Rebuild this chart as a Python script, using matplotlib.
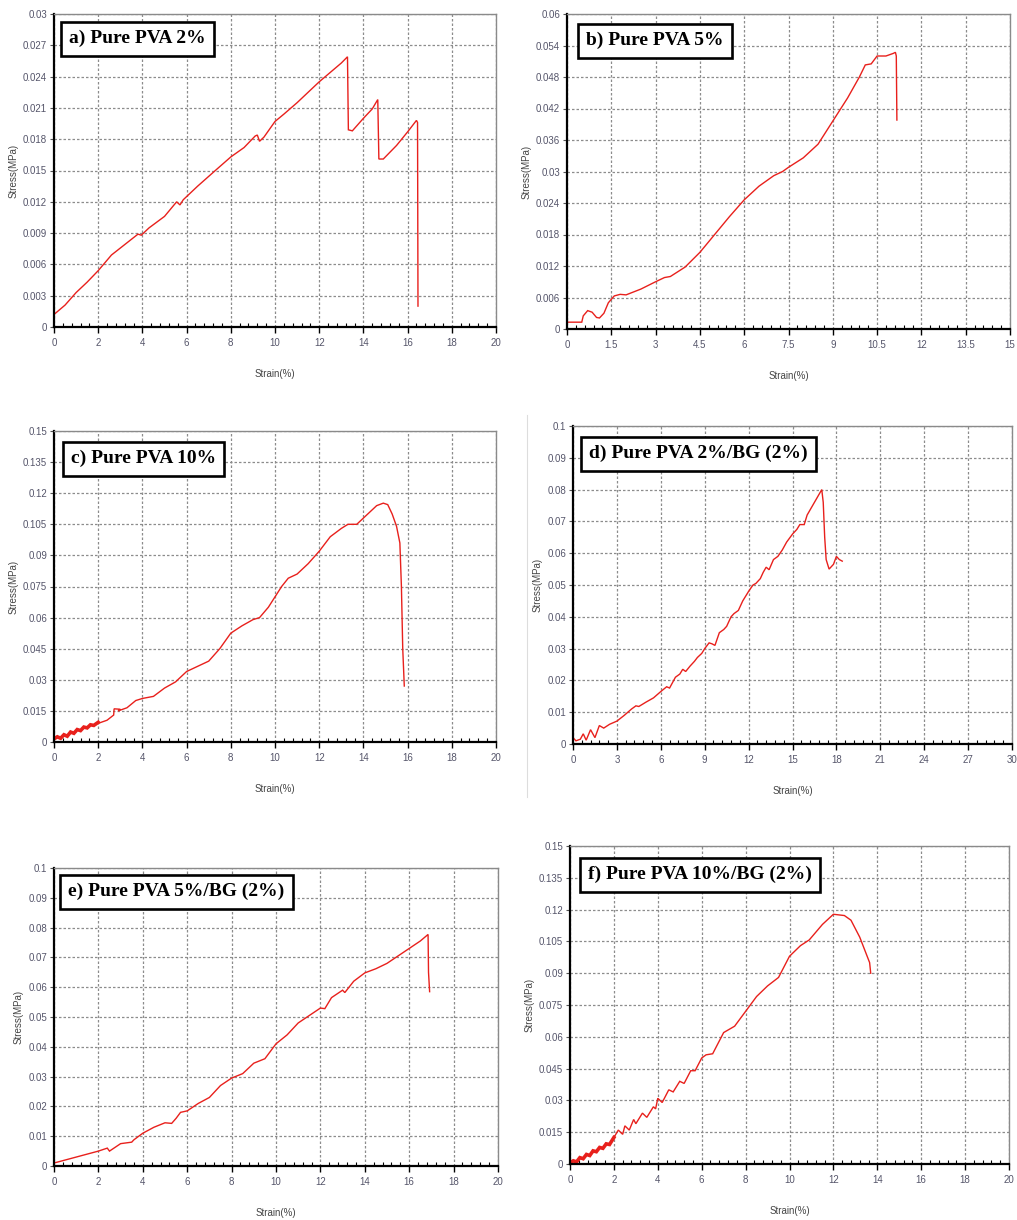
#!/usr/bin/env python3

import matplotlib
matplotlib.use("Agg")
import matplotlib.pyplot as plt
from matplotlib.ticker import AutoMinorLocator, FixedLocator
from matplotlib.lines import Line2D

# ---- data ----
titles = ["a) Pure PVA 2%", "b) Pure PVA 5%", "c) Pure PVA 10%",
          "d) Pure PVA 2%/BG (2%)", "e) Pure PVA 5%/BG (2%)", "f) Pure PVA 10%/BG (2%)"]

# a) Pure PVA 2%
strain_a = [0, 0.5, 1, 1.5, 2, 2.6, 3.2, 3.8, 3.95, 4.1, 4.3, 5, 5.55, 5.7, 5.85, 6.5, 7.3, 8,
            8.6, 9.1, 9.2, 9.3, 9.5, 10, 10.4, 11, 11.6, 12, 12.5, 13, 13.28, 13.32, 13.5, 14, 14.4,
            14.65, 14.7, 14.9, 15.5, 16, 16.4, 16.45, 16.47]
stress_a = [0.0012, 0.0021, 0.0033, 0.0043, 0.0054, 0.0069, 0.0079, 0.0089, 0.0088, 0.0091, 0.0095,
            0.0106, 0.0120, 0.0117, 0.0122, 0.0135, 0.0150, 0.0163, 0.0172, 0.0183, 0.0184, 0.0178,
            0.0182, 0.0197, 0.0204, 0.0215, 0.0227, 0.0235, 0.0244, 0.0253, 0.0259, 0.0189, 0.0188,
            0.0200, 0.0209, 0.0218, 0.0161, 0.0161, 0.0174, 0.0187, 0.0198, 0.0196, 0.0020]

# b) Pure PVA 5%
strain_b = [0, 0.5, 0.55, 0.7, 0.85, 1.0, 1.1, 1.25, 1.4, 1.6, 1.8, 2.0, 2.5, 3.0, 3.3, 3.5, 4.0,
            4.5, 5.0, 5.5, 6.0, 6.5, 7.0, 7.3, 7.5, 8.0, 8.5, 9.0, 9.5, 9.9, 10.1, 10.3, 10.5,
            10.8, 11.05, 11.12, 11.15, 11.17]
stress_b = [0.0013, 0.0013, 0.0025, 0.0035, 0.0032, 0.0022, 0.0021, 0.0030, 0.0050, 0.0063,
            0.0066, 0.0065, 0.0076, 0.0090, 0.0098, 0.0100, 0.0118, 0.0146, 0.0180, 0.0214, 0.0246,
            0.0272, 0.0292, 0.0300, 0.0308, 0.0326, 0.0352, 0.0396, 0.0440, 0.0480, 0.0503, 0.0505,
            0.0520, 0.0520, 0.0525, 0.0527, 0.0520, 0.0398]

# c) Pure PVA 10% (dense noisy start drawn separately)
strain_c0 = [0, 0.15, 0.3, 0.45, 0.6, 0.75, 0.9, 1.05, 1.2, 1.35, 1.5, 1.65, 1.8, 2.0]
stress_c0 = [0.0015, 0.0025, 0.0018, 0.0035, 0.0028, 0.0048, 0.0042, 0.0060, 0.0055, 0.0072,
             0.0068, 0.0083, 0.0080, 0.0095]
strain_c = [2.0, 2.4, 2.7, 2.72, 3.0, 2.9, 3.3, 3.7, 4.0, 4.5, 5.0, 5.5, 6.0, 6.5, 7.0, 7.5, 8.0,
            8.5, 9.0, 9.3, 9.7, 10.0, 10.3, 10.6, 11.0, 11.5, 12.0, 12.5, 13.0, 13.3, 13.7, 14.0,
            14.3, 14.6, 14.9, 15.1, 15.3, 15.5, 15.65, 15.72, 15.78, 15.85]
stress_c = [0.0090, 0.0105, 0.0130, 0.0160, 0.0158, 0.0150, 0.0165, 0.0200, 0.0210, 0.0220, 0.0260,
            0.0290, 0.0340, 0.0365, 0.0390, 0.0450, 0.0525, 0.0560, 0.0590, 0.0600, 0.0650, 0.0700,
            0.0750, 0.0790, 0.0810, 0.0860, 0.0920, 0.0990, 0.1030, 0.1050, 0.1050, 0.1080, 0.1110,
            0.1140, 0.1152, 0.1145, 0.1100, 0.1040, 0.0960, 0.0750, 0.0450, 0.0270]

# d) Pure PVA 2%/BG (2%)
strain_d = [0, 0.2, 0.5, 0.7, 0.9, 1.2, 1.5, 1.8, 2.1, 2.5, 3.0, 3.5, 4.0, 4.3, 4.5, 5.0, 5.5,
            6.0, 6.4, 6.6, 7.0, 7.3, 7.5, 7.7, 8.0, 8.3, 8.5, 8.8, 9.0, 9.3, 9.5, 9.7, 10.0, 10.3,
            10.5, 10.8, 11.0, 11.3, 11.6, 12.0, 12.3, 12.5, 12.8, 13.0, 13.2, 13.4, 13.7, 14.0,
            14.3, 14.6, 15.0, 15.3, 15.5, 15.8, 16.0, 16.5, 17.0, 17.1, 17.2, 17.3, 17.5, 17.8,
            18.0, 18.2, 18.4]
stress_d = [0.0020, 0.0010, 0.0015, 0.0032, 0.0012, 0.0045, 0.0020, 0.0058, 0.0050, 0.0062,
            0.0072, 0.0090, 0.0110, 0.0120, 0.0118, 0.0132, 0.0145, 0.0165, 0.0180, 0.0176,
            0.0210, 0.0220, 0.0235, 0.0228, 0.0245, 0.0260, 0.0272, 0.0285, 0.0300, 0.0318,
            0.0315, 0.0310, 0.0350, 0.0360, 0.0370, 0.0400, 0.0410, 0.0420, 0.0450, 0.0480,
            0.0500, 0.0505, 0.0520, 0.0540, 0.0556, 0.0548, 0.0580, 0.0590, 0.0610, 0.0635,
            0.0660, 0.0675, 0.0690, 0.0690, 0.0720, 0.0760, 0.0800, 0.0760, 0.0650, 0.0580,
            0.0550, 0.0565, 0.0590, 0.0580, 0.0575]

# e) Pure PVA 5%/BG (2%)
strain_e = [0, 1, 2, 2.4, 2.5, 3.0, 3.5, 3.6, 4.0, 4.5, 5.0, 5.3, 5.5, 5.7, 6.0, 6.5, 7.0, 7.5,
            8.0, 8.5, 9.0, 9.5, 10.0, 10.5, 11.0, 11.5, 12.0, 12.2, 12.5, 13.0, 13.1, 13.5, 14.0,
            14.5, 15.0, 15.5, 16.0, 16.5, 16.85, 16.87, 16.92]
stress_e = [0.0010, 0.0030, 0.0050, 0.0060, 0.0050, 0.0075, 0.0080, 0.0088, 0.0110, 0.0130,
            0.0145, 0.0143, 0.0160, 0.0180, 0.0185, 0.0210, 0.0230, 0.0270, 0.0295, 0.0310,
            0.0345, 0.0360, 0.0410, 0.0440, 0.0480, 0.0505, 0.0530, 0.0528, 0.0565, 0.0590,
            0.0582, 0.0620, 0.0648, 0.0662, 0.0680, 0.0705, 0.0730, 0.0755, 0.0777, 0.0650,
            0.0585]

# f) Pure PVA 10%/BG (2%) (dense noisy start drawn separately)
strain_f0 = [0, 0.15, 0.3, 0.45, 0.6, 0.75, 0.9, 1.05, 1.2, 1.35, 1.5, 1.65, 1.8, 2.0]
stress_f0 = [0.0005, 0.0015, 0.0010, 0.0030, 0.0025, 0.0045, 0.0040, 0.0062, 0.0058, 0.0078,
             0.0074, 0.0095, 0.0092, 0.0125]
strain_f = [2.0, 2.2, 2.4, 2.5, 2.7, 2.9, 3.0, 3.3, 3.5, 3.8, 3.9, 4.0, 4.2, 4.5, 4.7, 5.0, 5.2,
            5.5, 5.7, 6.0, 6.2, 6.5, 7.0, 7.5, 8.0, 8.5, 9.0, 9.5, 10.0, 10.5, 10.9, 11.5, 12.0,
            12.5, 12.8, 13.2, 13.5, 13.65, 13.7]
stress_f = [0.0125, 0.0160, 0.0140, 0.0180, 0.0160, 0.0210, 0.0190, 0.0240, 0.0220, 0.0270,
            0.0260, 0.0310, 0.0290, 0.0350, 0.0340, 0.0390, 0.0380, 0.0440, 0.0440, 0.0500,
            0.0515, 0.0520, 0.0620, 0.0650, 0.0720, 0.0790, 0.0840, 0.0880, 0.0980, 0.1030,
            0.1057, 0.1130, 0.1178, 0.1172, 0.1150, 0.1070, 0.0990, 0.0950, 0.0900]

# axis ranges and tick steps per panel
x_max = [20, 15, 20, 30, 20, 20]
x_step = [2, 1.5, 2, 3, 2, 2]
y_max = [0.03, 0.06, 0.15, 0.1, 0.1, 0.15]
y_step = [0.003, 0.006, 0.015, 0.01, 0.01, 0.015]

curves = [
    [(strain_a, stress_a)],
    [(strain_b, stress_b)],
    [(strain_c0, stress_c0), (strain_c, stress_c)],
    [(strain_d, stress_d)],
    [(strain_e, stress_e)],
    [(strain_f0, stress_f0), (strain_f, stress_f)],
]

# ---- layout (pixel boxes of each plot area in the 1017x1220 figure) ----
W, H = 1017, 1220
boxes = [(54, 14, 496, 327), (567, 14, 1010, 329),
         (54, 431, 496, 742), (573, 426, 1012, 744),
         (54, 868, 498, 1166), (570, 846, 1009, 1164)]
label_off = [(7, 8), (11, 10), (9, 11), (8, 11), (6, 7), (10, 12)]

RED = "#e8201c"
TICK_COL = "#55556a"
GRID_COL = "#8c8c8c"


def fmt(v):
    s = ("%.3f" % v).rstrip("0").rstrip(".")
    return s if s else "0"


fig = plt.figure(figsize=(W / 100, H / 100), dpi=100)

for i in range(6):
    l, t, r, b = boxes[i]
    ax = fig.add_axes([l / W, 1 - b / H, (r - l) / W, (b - t) / H])
    for k, (xs, ys) in enumerate(curves[i]):
        # first segment of c and f is a dense noisy band -> thicker stroke
        lw = 2.6 if (len(curves[i]) == 2 and k == 0) else 1.0
        ax.plot(xs, ys, color=RED, lw=lw, solid_joinstyle="miter")

    ax.set_xlim(0, x_max[i])
    ax.set_ylim(0, y_max[i])
    xt = [j * x_step[i] for j in range(11)]
    yt = [j * y_step[i] for j in range(11)]
    ax.xaxis.set_major_locator(FixedLocator(xt))
    ax.yaxis.set_major_locator(FixedLocator(yt))
    ax.set_xticklabels([fmt(v) for v in xt])
    ax.set_yticklabels([fmt(v) for v in yt])
    ax.xaxis.set_minor_locator(AutoMinorLocator(5))

    ax.tick_params(axis="x", which="major", direction="out", length=4, width=1,
                   color="black", labelsize=7, labelcolor=TICK_COL, pad=4)
    ax.tick_params(axis="x", which="minor", direction="in", length=3, width=0.8,
                   color="black")
    ax.tick_params(axis="y", which="major", direction="out", length=3, width=0.8,
                   color="#555", labelsize=7, labelcolor=TICK_COL, pad=2)
    for lab in ax.get_xticklabels() + ax.get_yticklabels():
        lab.set_family("Liberation Sans")

    ax.grid(True, which="major", color=GRID_COL, linestyle=(0, (2.0, 1.6)), lw=0.9)
    ax.set_axisbelow(True)

    for side in ["left", "bottom"]:
        ax.spines[side].set_color("black")
        ax.spines[side].set_linewidth(1.6)
    for side in ["top", "right"]:
        ax.spines[side].set_color("#8a8a8a")
        ax.spines[side].set_linewidth(1.0)

    ax.set_xlabel("Strain(%)", fontsize=7, color="#444", family="Liberation Sans", labelpad=15)
    ax.set_ylabel("Stress(MPa)", fontsize=7, color="#444", family="Liberation Sans", labelpad=3)

    dx, dy = label_off[i]
    pad = 0.42 * 14
    ax.annotate(titles[i], xy=(0, 1), xycoords="axes fraction",
                xytext=(dx * 0.72 + pad, -(dy * 0.72 + pad)), textcoords="offset points",
                ha="left", va="top", fontsize=14, fontweight="bold",
                family="Liberation Serif", color="black", zorder=5,
                bbox=dict(boxstyle="square,pad=0.42", fc="white", ec="black", lw=1.9))

# faint frame around panel d in the source image
fig.add_artist(Line2D([527 / W, 527 / W], [1 - 415 / H, 1 - 797 / H], color="#dddddd", lw=0.8))

fig.savefig("out.png", dpi=100)
